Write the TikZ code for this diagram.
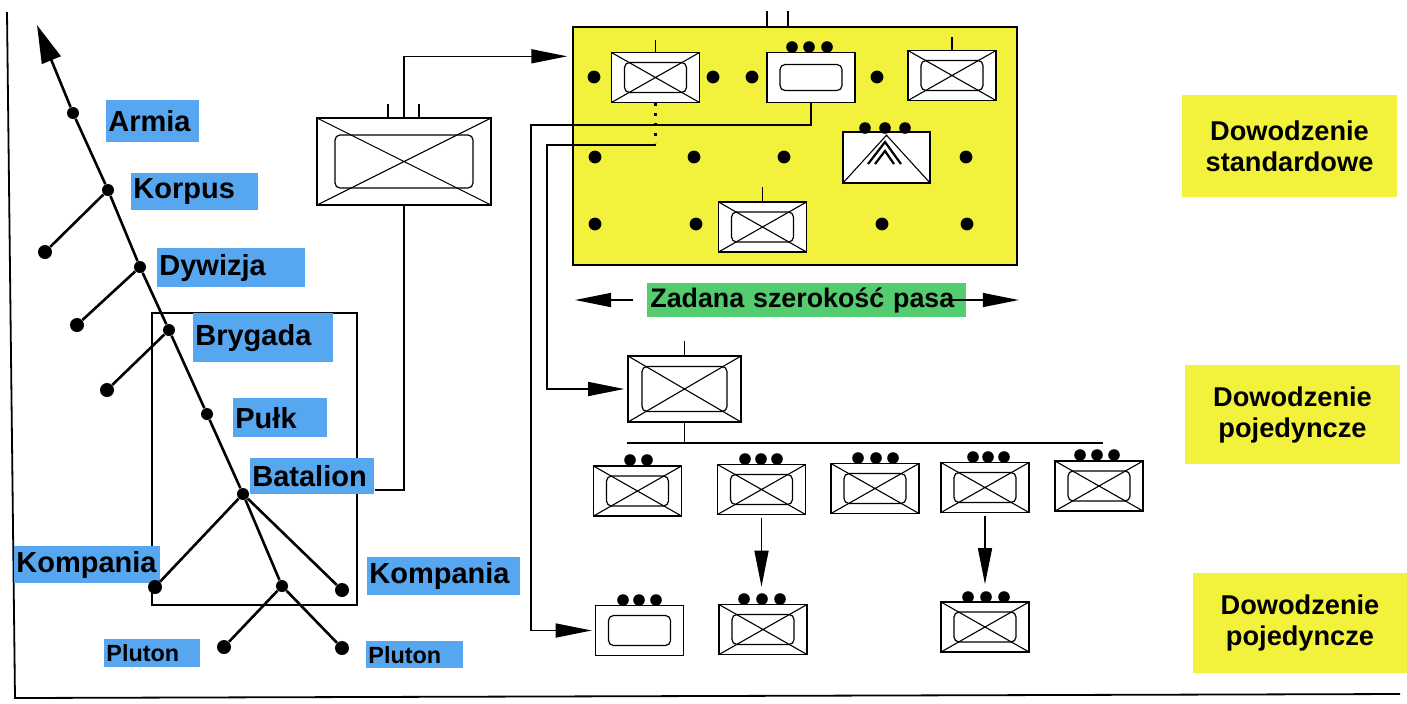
\documentclass[tikz,border=0pt]{standalone}
\usepackage{fontspec}
\setmainfont{Liberation Sans}
\usetikzlibrary{arrows.meta}

\definecolor{rankblue}{RGB}{86,166,240}
\definecolor{zoneyellow}{RGB}{242,242,60}
\definecolor{bandgreen}{RGB}{84,204,112}

\tikzset{
  tree/.style = {line width = 1.3pt},
  link/.style = {line width = 0.7pt},
  arr/.style = {-{Triangle[length = 18pt, width = 7pt]}},
  arrtop/.style = {-{Triangle[length = 19pt, width = 10pt]}},
  dot/.style = {circle, fill, inner sep = 0pt, minimum size = 6pt},
  leaf/.style = {dot, minimum size = 7pt},
  rank/.style = {fill = rankblue, anchor = north west, inner xsep = 1pt, inner ysep = 0pt,
    align = left, font = \bfseries\fontsize{14.5}{16}\selectfont},
  small/.style = {font = \bfseries\fontsize{11.7}{13}\selectfont},
  note/.style = {fill = zoneyellow, inner sep = 0pt, align = center,
    minimum width = 107.5pt, minimum height = 50pt,
    font = \bfseries\fontsize{13.6}{15.5}\selectfont},
  xbox/.style 2 args = {draw, line width = 0.8pt, fill = white, inner sep = 0pt,
    minimum width = 44pt, minimum height = 25pt,
    path picture = {
      \draw [line width = 0.6pt, rounded corners = 2.5pt]
        ([shift = {(#1, -#2)}] path picture bounding box.north west) rectangle
        ([shift = {(-#1, #2)}] path picture bounding box.south east);
      \draw [line width = 0.55pt]
        (path picture bounding box.north west) to (path picture bounding box.south east)
        (path picture bounding box.south west) to (path picture bounding box.north east);
    }},
  obox/.style 2 args = {draw, line width = 0.8pt, fill = white, inner sep = 0pt,
    minimum width = 44pt, minimum height = 25pt,
    path picture = {
      \draw [line width = 0.6pt, rounded corners = 2.5pt]
        ([shift = {(#1, -#2)}] path picture bounding box.north west) rectangle
        ([shift = {(-#1, #2)}] path picture bounding box.south east);
    }},
  hq/.style = {xbox = {6.5pt}{5pt}},
  hqo/.style = {obox = {6.5pt}{5pt}},
}

\begin{document}
\begin{tikzpicture}[x = 0.5pt, y = -0.5pt]
\useasboundingbox (0, 0) rectangle (1407, 703);
%\draw [help lines, step = 50] (0, 0) grid (1407, 703);
\draw [line width = 0.9pt] (7, 12) to (15, 698) to (1400, 694);

% standard zone
\node [draw, line width = 0.7pt, fill = zoneyellow, minimum width = 222pt, minimum height = 119pt] (zone) at (795, 146) {};
\draw [link] ([xshift = -14pt] zone.north) to ++(0, -15);
\draw [link] ([xshift = -3.5pt] zone.north) to ++(0, -15);
\foreach \x/\y in {594/77, 713/77, 752/77, 877/77, 595/157, 694/157, 784/157, 966/157, 595/224, 696/224, 882/224, 967/224}
  \fill (\x, \y) circle (3.2pt);
\node [hq] (y-a) at (655.5, 77.5) {};
\node [obox = {6.5pt}{6pt}] (y-b) at (811, 77.5) {};
\node [hq] (y-c) at (952, 75.5) {};
\node [draw, line width = 0.8pt, fill = white, inner sep = 0pt, minimum width = 43.5pt, minimum height = 25.5pt] (y-d) at (886.5, 157.5) {};
\node [hq] (y-e) at (762.5, 227) {};
\draw [link] (y-a.north) to ++(0, -12);
\draw [link] (y-c.north) to ++(0, -13);
\draw [link] (y-e.north) to ++(0, -14);
\draw [line width = 0.55pt] (y-d.south west) to ([yshift = -2pt] y-d.north) to (y-d.south east);
\draw [line width = 1.1pt] (868, 164) to (885, 142) to (901, 164);
\draw [line width = 1.1pt] (875, 164) to (885, 151) to (894, 164);
\foreach \x in {792, 809, 827} \fill (\x, 47) circle (2.9pt);
\foreach \x in {865, 885, 905} \fill (\x, 128) circle (2.9pt);

% width of the band
\node [fill = bandgreen, anchor = west, inner xsep = 1.5pt, inner ysep = 0pt, minimum height = 17pt,
  text width = 156.5pt, align = left, font = \bfseries\fontsize{13.4}{15}\selectfont] (band) at (647, 300) {Zadana szerokość pasa};
\draw [link, arr] ([xshift = -7pt] band.west) to ++(-58, 0);
\draw [link, arr] ([xshift = -8pt] band.east) to ++(68, 0);

% single command
\node [xbox = {7pt}{5.25pt}, minimum width = 56.5pt, minimum height = 33pt] (k-0) at (684.5, 389) {};
\draw [link] (k-0.north) to ++(0, -14);
\coordinate (bus-w) at (627, 443);
\coordinate (bus-e) at (1103, 443);
\draw [link] (k-0.south) to (k-0.south |- bus-w);
\draw [link] (bus-w) to (bus-e);
\node [hq] (k-1) at (637.5, 491) {};
\node [hq] (k-2) at (761.5, 489.5) {};
\node [hq] (k-3) at (875, 488.5) {};
\node [hq] (k-4) at (985, 487.5) {};
\node [hq] (k-5) at (1099, 486) {};
\node [hqo] (b-1) at (639.5, 630.5) {};
\node [hq] (b-2) at (763, 629.5) {};
\node [hq] (b-3) at (985, 627) {};
\foreach \x in {630, 647} \fill (\x, 460) circle (2.9pt);
\foreach \x in {745, 761, 777} \fill (\x, 459) circle (2.9pt);
\foreach \x in {858, 876, 893} \fill (\x, 458) circle (2.9pt);
\foreach \x in {973, 988, 1004} \fill (\x, 457) circle (2.9pt);
\foreach \x in {1080, 1097, 1114} \fill (\x, 455) circle (2.9pt);
\foreach \x in {623, 639, 656} \fill (\x, 600) circle (2.9pt);
\foreach \x in {744, 762, 780} \fill (\x, 599) circle (2.9pt);
\foreach \x in {968, 986, 1004} \fill (\x, 597) circle (2.9pt);
\draw [link, arr, shorten < = 1.5pt, shorten > = 8.5pt] (k-2.south) to (k-2.south |- b-2.north);
\draw [link, arr, shorten < = 1.5pt, shorten > = 8.5pt] (k-4.south) to (b-3.north);

% labels on the right
\node [note, minimum height = 51pt] (n-std) at (1289.5, 146) {Dowodzenie\\standardowe};
\node [note, minimum height = 49.5pt] (n-poj) at (1292.5, 414.5) {Dowodzenie\\pojedyncze};
\node [note] (n-poj2) at (1300, 623) {Dowodzenie\\pojedyncze};

% ranks
\draw [line width = 0.6pt] (152, 313) rectangle (357, 605);
\node [rank, text width = 44.5pt, minimum height = 21pt] (l-arm) at (106, 100) {Armia};
\node [rank, text width = 61.5pt, minimum height = 18.5pt] (l-kor) at (131, 173) {Korpus};
\node [rank, text width = 72pt, minimum height = 19.5pt] (l-dyw) at (157, 248) {Dywizja};
\node [rank, text width = 68pt, minimum height = 24.5pt] (l-bry) at (193, 313) {Brygada};
\node [rank, text width = 45pt, minimum height = 19.5pt] (l-pul) at (233, 398) {Pułk};
\node [rank, text width = 60pt, minimum height = 18pt] (l-bat) at (250, 458) {Batalion};
\node [rank, text width = 71pt, minimum height = 18.5pt] (l-kl) at (14, 546) {Kompania};
\node [rank, text width = 74.5pt, minimum height = 19pt] (l-kr) at (367, 557) {Kompania};
\node [rank, small, text width = 46pt, minimum height = 14pt] (l-pl) at (104, 639) {Pluton};
\node [rank, small, text width = 46.5pt, minimum height = 13.5pt] (l-pr) at (366, 641) {Pluton};

\coordinate (tip) at (37, 25);
\node [dot] (n-arm) at (73, 113) {};
\node [dot] (n-kor) at (108, 190) {};
\node [dot] (n-dyw) at (140, 267) {};
\node [dot] (n-bry) at (169, 330) {};
\node [dot] (n-pul) at (207, 414) {};
\node [dot] (n-bat) at (243, 494) {};
\node [dot] (n-plu) at (282, 586) {};
\node [leaf] (v-kor) at (45, 252) {};
\node [leaf] (v-dyw) at (77, 325) {};
\node [leaf] (v-bry) at (107, 390) {};
\node [leaf] (v-kl) at (155, 587) {};
\node [leaf] (v-kr) at (342, 590) {};
\node [leaf] (v-pl) at (224, 647) {};
\node [leaf] (v-pr) at (342, 648) {};
\draw [tree, arrtop] (n-arm) to (tip);
\draw [tree] (n-arm) to (n-kor) to (n-dyw) to (n-bry) to (n-pul) to (n-bat) to (n-plu);
\draw [tree] (n-kor) to (v-kor);
\draw [tree] (n-dyw) to (v-dyw);
\draw [tree] (n-bry) to (v-bry);
\draw [tree] (n-bat) to (v-kl);
\draw [tree] (n-bat) to (v-kr);
\draw [tree] (n-plu) to (v-pl);
\draw [tree] (n-plu) to (v-pr);

% connectors
\node [xbox = {9pt}{8.5pt}, minimum width = 87pt, minimum height = 43.5pt] (hq-c) at (404, 161.5) {};
\draw [link] ([yshift = 2.5pt] l-bat.south east) -| (hq-c.south);
\draw [link, arr] (hq-c.north) |- ([xshift = -2.5pt, yshift = -15pt] zone.north west);
\draw [link] ([xshift = -8pt] hq-c.north) to ++(0, -13);
\draw [link] ([xshift = 7.5pt] hq-c.north) to ++(0, -13);
\coordinate (turn-a) at (547, 145);
\coordinate (turn-b) at (531, 125);
\draw [line width = 1.2pt, dash pattern = on 1.2pt off 3.8pt] (y-a.south) to ++(0, 40);
\draw [link, arr] (y-a.south |- turn-a) to (turn-a) |- ([xshift = -1.5pt] k-0.west);
\draw [link, arr] (y-b.south) |- (turn-b) |- ([xshift = -1.5pt] b-1.west);
\end{tikzpicture}
\end{document}
